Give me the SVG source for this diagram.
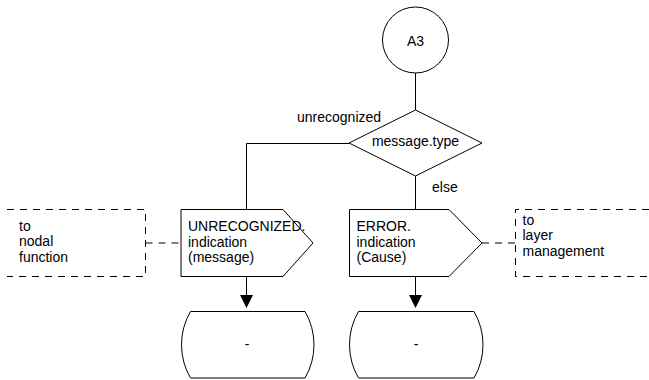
<svg xmlns="http://www.w3.org/2000/svg" width="649" height="380" viewBox="0 0 649 380">
<style>
.s{fill:#fff;stroke:#000;stroke-width:1}
.l{fill:none;stroke:#000;stroke-width:1}
.d{fill:none;stroke:#000;stroke-width:1;stroke-dasharray:7,6}
text{font-family:"Liberation Sans",Arial,sans-serif;font-size:14px;fill:#000}
.c{text-anchor:middle}
</style>
<rect width="649" height="380" fill="#fff"/>
<g id="connectors">
<line class="l" x1="415.5" y1="73" x2="415.5" y2="110"/>
<polyline class="l" points="349,143.5 246.5,143.5 246.5,209.5"/>
<line class="l" x1="415.5" y1="176" x2="415.5" y2="209.5"/>
<line class="l" x1="246.5" y1="276.5" x2="246.5" y2="296"/>
<polygon points="240,295 253,295 246.5,308" fill="#000"/>
<line class="l" x1="415.5" y1="276.5" x2="415.5" y2="296"/>
<polygon points="409,295 422,295 415.5,308" fill="#000"/>
<line class="d" x1="145.5" y1="243" x2="181" y2="243"/>
<line class="d" x1="482" y1="243" x2="515.5" y2="243"/>
<text x="297" y="122">unrecognized</text>
<text x="432" y="192">else</text>
</g>
<g id="start">
<circle class="s" cx="415.5" cy="40" r="33"/>
<text class="c" x="415.5" y="46">A3</text>
</g>
<g id="decision">
<polygon class="s" points="415.5,110 482,143 415.5,176 349,143"/>
<text class="c" x="415.5" y="146">message.type</text>
</g>
<g id="sig-unrecognized">
<polygon class="s" points="181,209.5 283,209.5 313,243 283,276.5 181,276.5"/>
<text x="188" y="231">UNRECOGNIZED.</text>
<text x="188" y="246.5">indication</text>
<text x="188" y="262">(message)</text>
</g>
<g id="sig-error">
<polygon class="s" points="349.5,209.5 449,209.5 482,243 449,276.5 349.5,276.5"/>
<text x="356.5" y="231">ERROR.</text>
<text x="356.5" y="246.5">indication</text>
<text x="356.5" y="262">(Cause)</text>
</g>
<g id="env-nodal">
<polyline class="d" points="7,209.5 145.5,209.5 145.5,276.5 7,276.5"/>
<text x="19" y="230.5">to</text>
<text x="19" y="246">nodal</text>
<text x="19" y="261.5">function</text>
</g>
<g id="env-layer">
<polyline class="d" points="649,209.5 515.5,209.5 515.5,276.5 649,276.5"/>
<text x="522.5" y="224.5">to</text>
<text x="522.5" y="240">layer</text>
<text x="522.5" y="255.5">management</text>
</g>
<g id="state-left">
<path class="s" d="M190.5,311.5 H305 A66,66 0 0 1 305,378 H190.5 A66,66 0 0 1 190.5,311.5 Z"/>
<text class="c" x="247" y="349">-</text>
</g>
<g id="state-right">
<path class="s" d="M358.5,311.5 H474 A66,66 0 0 1 474,378 H358.5 A66,66 0 0 1 358.5,311.5 Z"/>
<text class="c" x="416" y="349">-</text>
</g>
</svg>
